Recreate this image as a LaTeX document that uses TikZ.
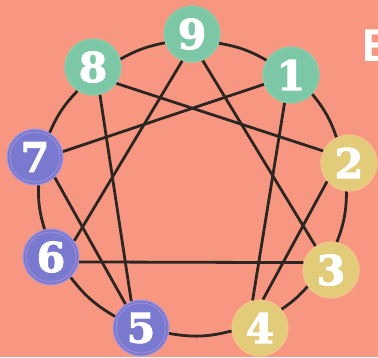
\documentclass[tikz,border=0pt]{standalone}
\usepackage{fontspec}
\newfontfamily\digitfont{DejaVu Serif}
\newfontfamily\labelfont{Liberation Sans}
\definecolor{bg}{RGB}{248,151,129}
\definecolor{ink}{RGB}{44,38,34}
\definecolor{greenfill}{RGB}{124,200,166}
\definecolor{greenedge}{RGB}{140,206,172}
\definecolor{yellowfill}{RGB}{226,204,122}
\definecolor{yellowedge}{RGB}{245,196,140}
\definecolor{purplefill}{RGB}{121,121,208}
\definecolor{purpleedge}{RGB}{170,150,220}
\tikzset{
  pt/.style={circle, minimum size=56pt, inner sep=0pt, text=white,
    font=\digitfont\bfseries\fontsize{41}{41}\selectfont\addfontfeature{FakeBold=2.5}},
  gpt/.style={pt, fill=greenfill, draw=greenedge, line width=1.2pt},
  ypt/.style={pt, fill=yellowfill, draw=yellowedge, line width=1.2pt},
  ppt/.style={pt, fill=purplefill, draw=purpleedge, line width=1pt},
  link/.style={draw=ink, line width=2.8pt},
}
\begin{document}
\begin{tikzpicture}[x=1pt,y=-1pt]
\useasboundingbox (0,0) rectangle (378,357);
\fill[bg] (0,0) rectangle (378,357);
% nodes
\node[gpt] (n9) at (192,34) {9};
\node[gpt] (n1) at (291,75) {1};
\node[gpt] (n8) at (93,67) {8};
\node[ypt] (n2) at (349,163) {2};
\node[ypt] (n3) at (331,270) {3};
\node[ypt] (n4) at (260,328) {4};
\node[ppt] (n5) at (141,328) {5};
\node[ppt] (n6) at (51,257) {6};
\node[ppt] (n7) at (35,157) {7};
% outer ring
\draw[link] (n9.-19) to[bend left=10] (n1.149);
\draw[link] (n1.-42) to[bend left=10] (n2.116);
\draw[link] (n2.-95) to[bend left=10] (n3.78);
\draw[link] (n3.215) to[bend left=7] (n4.41);
\draw[link] (n4.186) to[bend left=12] (n5.-11);
\draw[link] (n5.156) to[bend left=11] (n6.-46);
\draw[link] (n6.103) to[bend left=9] (n7.-83);
\draw[link] (n7.59) to[bend left=10] (n8.237);
\draw[link] (n8.16) to[bend left=9] (n9.198);
% inner lines
\draw[link] (n1.257) -- (n4.105);
\draw[link] (n4.84) -- (n2.220);
\draw[link] (n2.155) -- (n8.-35);
\draw[link] (n8.-76) -- (n5.110);
\draw[link] (n5.123) -- (n7.-46);
\draw[link] (n7.11) -- (n1.199);
\draw[link] (n9.-68) -- (n3.123);
\draw[link] (n3.165) -- (n6.-10);
\draw[link] (n6.35) -- (n9.250);
\foreach \n in {n5,n6,n7} \draw[purpleedge, line width=0.6pt] (\n.center) circle (25pt);
% cut-off title letter
\node[anchor=west, inner sep=0pt, text=white, font=\labelfont\bfseries\fontsize{46}{46}\selectfont] (title) at (362,46) {E};
\end{tikzpicture}
\end{document}
